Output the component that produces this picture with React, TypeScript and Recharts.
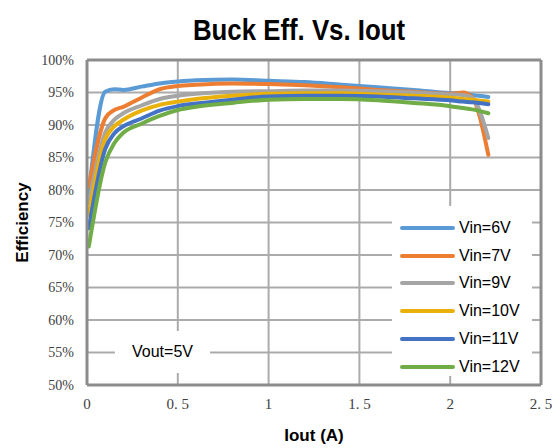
import React from "react";
import {
  LineChart,
  Line,
  XAxis,
  YAxis,
  CartesianGrid,
  Legend,
  ReferenceLine,
} from "recharts";

// Iout sample points (A)
const iout = [0.01, 0.1, 0.15, 0.2, 0.3, 0.4, 0.5, 0.6, 0.8, 1.0, 1.2, 1.4, 1.6, 1.8, 2.0, 2.07, 2.12, 2.21];

// efficiency (%) per input voltage
const vin6 = [79.5, 95.1, 95.5, 95.4, 95.9, 96.4, 96.7, 96.9, 97.0, 96.8, 96.6, 96.2, 95.8, 95.4, 94.9, 94.8, 94.6, 94.3];
const vin7 = [80.5, 91.0, 92.3, 92.8, 94.2, 95.5, 96.0, 96.2, 96.4, 96.3, 96.1, 95.8, 95.4, 95.1, 94.8, 95.0, 94.3, 85.4];
const vin9 = [78.0, 88.8, 90.8, 91.8, 93.0, 94.0, 94.5, 94.8, 95.1, 95.2, 95.3, 95.3, 95.2, 95.0, 94.7, 94.6, 94.2, 88.0];
const vin10 = [76.2, 87.8, 89.8, 90.8, 92.2, 93.1, 93.6, 94.0, 94.5, 94.8, 94.9, 94.9, 94.7, 94.5, 94.2, 94.0, 93.9, 93.6];
const vin11 = [74.1, 86.3, 88.7, 89.8, 91.0, 92.2, 92.9, 93.3, 93.9, 94.4, 94.5, 94.5, 94.4, 94.1, 93.8, 93.6, 93.5, 93.2];
const vin12 = [71.3, 84.2, 87.2, 88.8, 90.2, 91.4, 92.3, 92.8, 93.4, 93.9, 94.0, 94.0, 93.8, 93.4, 92.9, 92.6, 92.4, 91.8];

const seriesNames = ["Vin=6V", "Vin=7V", "Vin=9V", "Vin=10V", "Vin=11V", "Vin=12V"];
const seriesValues = [vin6, vin7, vin9, vin10, vin11, vin12];
const seriesColors = ["#5B9BD5", "#ED7D31", "#A5A5A5", "#E9B10A", "#4472C4", "#70AD47"];

const xTicks = [0, 0.5, 1, 1.5, 2, 2.5];
const yTicks = [50, 55, 60, 65, 70, 75, 80, 85, 90, 95, 100];

const data = iout.map((x, i) => {
  const row: Record<string, number> = { iout: x };
  seriesNames.forEach((name, s) => {
    row[name] = seriesValues[s][i];
  });
  return row;
});

const formatX = (v: number) =>
  Number.isInteger(v) ? String(v) : v.toFixed(1).replace(".", ". ");

const gridColor = "#ababab";
const frameColor = "#8c8c8c";

const LegendBox = () => (
  <div
    style={{
      background: "#fff",
      width: 140,
      height: 170,
      boxSizing: "border-box",
      paddingTop: 8,
      fontFamily: "'Liberation Sans', Arial, sans-serif",
      fontSize: 16,
    }}
  >
    {seriesNames.map((name, i) => (
      <div
        key={name}
        style={{ display: "flex", alignItems: "center", height: 27.8 }}
      >
        <span
          style={{
            display: "inline-block",
            width: 55,
            height: 4,
            borderRadius: 2,
            marginLeft: 8,
            marginRight: 4,
            background: seriesColors[i],
          }}
        />
        <span style={{ color: "#000" }}>{name}</span>
      </div>
    ))}
  </div>
);

export default function App() {
  return (
    <div
      style={{
        position: "absolute",
        left: 0,
        top: 0,
        width: 559,
        height: 448,
        background: "#fff",
      }}
    >
      <LineChart
        width={559}
        height={448}
        data={data}
        margin={{ top: 60, right: 18, left: 0, bottom: 0 }}
      >
        <CartesianGrid stroke={gridColor} strokeWidth={2} />
        <XAxis
          dataKey="iout"
          type="number"
          domain={[0, 2.5]}
          ticks={xTicks}
          tickFormatter={formatX}
          height={63}
          tickLine={false}
          tickSize={0}
          tickMargin={13}
          axisLine={{ stroke: frameColor, strokeWidth: 3 }}
          tick={{ fill: "#404040", fontSize: 15, fontFamily: "'Liberation Serif', serif" }}
          label={{
            value: "Iout (A)",
            position: "insideBottom",
            offset: 7,
            style: { fontSize: 17, fontWeight: "bold", fill: "#000", fontFamily: "'Liberation Sans', Arial, sans-serif" },
          }}
        />
        <YAxis
          type="number"
          domain={[50, 100]}
          ticks={yTicks}
          tickFormatter={(v) => `${v}%`}
          width={87}
          tickLine={false}
          tickSize={0}
          tickMargin={13}
          axisLine={{ stroke: frameColor, strokeWidth: 3 }}
          tick={{ fill: "#404040", fontSize: 14, fontFamily: "'Liberation Serif', serif" }}
          label={{
            value: "Efficiency",
            angle: -90,
            position: "insideLeft",
            offset: 22,
            style: { fontSize: 17, fontWeight: "bold", fill: "#000", textAnchor: "middle", fontFamily: "'Liberation Sans', Arial, sans-serif" },
          }}
        />
        <ReferenceLine y={100} stroke={frameColor} strokeWidth={3} />
        <ReferenceLine x={2.5} stroke={frameColor} strokeWidth={3} />
        {seriesNames.map((name, i) => (
          <Line
            key={name}
            type="monotone"
            dataKey={name}
            stroke={seriesColors[i]}
            strokeWidth={4}
            strokeLinecap="round"
            dot={false}
            activeDot={false}
            isAnimationActive={false}
          />
        ))}
        <Legend
          layout="vertical"
          align="center"
          verticalAlign="middle"
          content={() => <LegendBox />}
          wrapperStyle={{ left: 392, top: 206, width: 140, height: 170 }}
        />
      </LineChart>
      <div
        style={{
          position: "absolute",
          left: 0,
          top: 12,
          width: 598,
          textAlign: "center",
          fontFamily: "'Liberation Sans', Arial, sans-serif",
          fontWeight: "bold",
          fontSize: 30,
          lineHeight: "36px",
          color: "#000",
          transform: "scaleX(0.86)",
          transformOrigin: "299px 0",
        }}
      >
        Buck Eff. Vs. Iout
      </div>
      <div
        style={{
          position: "absolute",
          left: 115,
          top: 331,
          width: 95,
          height: 42,
          background: "#fff",
          display: "flex",
          alignItems: "center",
          justifyContent: "center",
          fontFamily: "'Liberation Sans', Arial, sans-serif",
          fontSize: 16,
          color: "#000",
        }}
      >
        Vout=5V
      </div>
    </div>
  );
}
